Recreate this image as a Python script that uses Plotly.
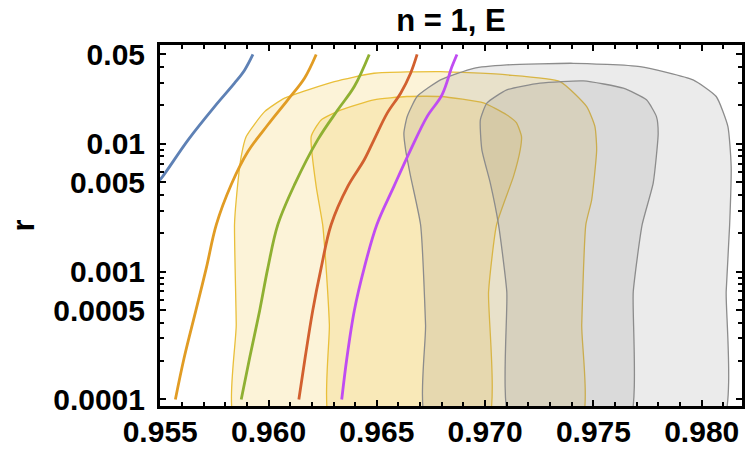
import plotly.graph_objects as go

# Model curves: spectral index n_s against tensor-to-scalar ratio r
blue_ns = [0.95490, 0.95510, 0.95629, 0.95751, 0.95843, 0.95890, 0.95928]
blue_r = [0.00505, 0.00552, 0.01074, 0.01954, 0.02979, 0.03784, 0.05]

orange_ns = [0.95570, 0.95610, 0.95665, 0.95713, 0.95759, 0.95828, 0.95905,
             0.95997, 0.96089, 0.96166, 0.96220]
orange_r = [1e-4, 2.1e-4, 5e-4, 1.07e-3, 2.33e-3, 4.8e-3, 8.7e-3,
            0.0141, 0.0221, 0.0326, 0.05]

green_ns = [0.95874, 0.95913, 0.95959, 0.95997, 0.96043, 0.96120, 0.96227,
            0.96320, 0.96396, 0.96465]
green_r = [1e-4, 2.12e-4, 4.95e-4, 1.07e-3, 2.33e-3, 4.79e-3, 0.01074,
           0.01845, 0.02805, 0.05]

red_ns = [0.96140, 0.96169, 0.96204, 0.96243, 0.96289, 0.96366, 0.96442,
          0.96487, 0.96548, 0.96610, 0.96656, 0.96686]
red_r = [1e-4, 2.12e-4, 4.95e-4, 1.07e-3, 2.33e-3, 4.65e-3, 7.5e-3,
         0.01074, 0.01738, 0.02489, 0.03565, 0.05]

magenta_ns = [0.96338, 0.96362, 0.96396, 0.96442, 0.96500, 0.96579, 0.96656,
              0.96732, 0.96801, 0.96847, 0.96870]
magenta_r = [1e-4, 2.12e-4, 4.95e-4, 1.07e-3, 2.33e-3, 4.65e-3, 8.97e-3,
             0.01633, 0.02415, 0.04018, 0.05]

# Confidence regions (95% and 68%) for the two data sets
yellow95_ns = [0.95851, 0.95851, 0.95843, 0.95851, 0.95874, 0.95897, 0.95982,
               0.96074, 0.96304, 0.96487, 0.96795, 0.97102, 0.97346, 0.97469,
               0.97507, 0.97515, 0.97492, 0.97465, 0.97446, 0.97438]
yellow95_r = [6.3e-5, 3.85e-4, 2.33e-3, 3.65e-3, 7.96e-3, 0.0114, 0.01786,
              0.02275, 0.03069, 0.03565, 0.03673, 0.03459, 0.03069, 0.01954,
              0.01365, 8.97e-3, 3.65e-3, 2.33e-3, 3.85e-4, 6.3e-5]

yellow68_ns = [0.96289, 0.96281, 0.96266, 0.96250, 0.96220, 0.96197, 0.96243,
               0.96335, 0.96487, 0.96639, 0.96795, 0.96993, 0.97099, 0.97145,
               0.97168, 0.97162, 0.97131, 0.97053, 0.97016, 0.97008]
yellow68_r = [6.3e-5, 3.85e-4, 1.069e-3, 2.33e-3, 4.65e-3, 0.0114, 0.01538,
              0.01845, 0.02208, 0.02344, 0.02344, 0.02089, 0.01687, 0.01459,
              0.0114, 8.97e-3, 5.56e-3, 2.33e-3, 7.01e-4, 6.3e-5]

gray95_ns = [0.96735, 0.96725, 0.96702, 0.96656, 0.96633, 0.96625, 0.96640,
             0.96686, 0.96794, 0.96947, 0.97100, 0.97407, 0.97715, 0.97960,
             0.98067, 0.98121, 0.98136, 0.98129, 0.98113, 0.98090]
gray95_r = [6.3e-5, 3.85e-4, 2.33e-3, 5.56e-3, 8.97e-3, 0.01211, 0.01629,
            0.02344, 0.03162, 0.03899, 0.04140, 0.04266, 0.04018, 0.03162,
            0.02344, 0.01365, 6.65e-3, 2.33e-3, 7.01e-4, 6.3e-5]

gray68_ns = [0.97119, 0.97100, 0.97062, 0.97024, 0.96985, 0.96978, 0.97008,
             0.97100, 0.97254, 0.97454, 0.97638, 0.97745, 0.97791, 0.97799,
             0.97776, 0.97725, 0.97684, 0.97661]
gray68_r = [6.3e-5, 7.01e-4, 2.33e-3, 4.93e-3, 8.97e-3, 0.01538, 0.02080,
            0.02642, 0.02979, 0.03105, 0.02723, 0.02208, 0.01633, 0.01211,
            4.93e-3, 2.33e-3, 7.01e-4, 6.3e-5]

x_ticks = [0.955, 0.960, 0.965, 0.970, 0.975, 0.980]
x_tick_text = ["0.955", "0.960", "0.965", "0.970", "0.975", "0.980"]
x_minor = [0.956, 0.957, 0.958, 0.959, 0.961, 0.962, 0.963, 0.964, 0.966,
           0.967, 0.968, 0.969, 0.971, 0.972, 0.973, 0.974, 0.976, 0.977,
           0.978, 0.979, 0.981]
y_ticks = [1e-4, 5e-4, 1e-3, 5e-3, 1e-2, 5e-2]
y_tick_text = ["0.0001", "0.0005", "0.001", "0.005", "0.01", "0.05"]
y_minor = [2e-4, 3e-4, 4e-4, 6e-4, 7e-4, 8e-4, 9e-4,
           2e-3, 3e-3, 4e-3, 6e-3, 7e-3, 8e-3, 9e-3,
           2e-2, 3e-2, 4e-2]

FONT = "Liberation Sans, Arial, sans-serif"
TICK_FONT = dict(family=FONT, size=30, color="black", weight="bold")

fig = go.Figure()

regions = [
    (yellow95_ns, yellow95_r, "rgba(240,195,60,0.2)", "#e9bf3a"),
    (yellow68_ns, yellow68_r, "rgba(240,195,60,0.2)", "#e9bf3a"),
    (gray95_ns, gray95_r, "rgba(128,128,128,0.16)", "#8c8c8c"),
    (gray68_ns, gray68_r, "rgba(128,128,128,0.16)", "#8c8c8c"),
]
for xs, rs, fillc, linec in regions:
    fig.add_trace(go.Scatter(
        x=xs + xs[:1], y=rs + rs[:1], mode="lines", fill="toself",
        fillcolor=fillc, line=dict(color=linec, width=1.3, shape="spline",
                                   smoothing=0.5),
        hoverinfo="skip", showlegend=False))

curves = [
    (blue_ns, blue_r, "#5e81b5"),
    (orange_ns, orange_r, "#e19c24"),
    (green_ns, green_r, "#8fb032"),
    (red_ns, red_r, "#d2602f"),
    (magenta_ns, magenta_r, "#c04cf2"),
]
for xs, rs, col in curves:
    fig.add_trace(go.Scatter(
        x=xs, y=rs, mode="lines",
        line=dict(color=col, width=2.8, shape="spline", smoothing=1.0),
        showlegend=False))

fig.update_layout(
    width=746, height=450,
    margin=dict(l=160, r=4, t=45, b=44),
    paper_bgcolor="white", plot_bgcolor="white",
    font=dict(family=FONT, size=30, color="black", weight="bold"),
    title=dict(text="n = 1, E", x=0.5, xref="paper", xanchor="center",
               y=1 - 20 / 450, yref="container", yanchor="middle",
               font=dict(family=FONT, size=31, color="black", weight="bold")),
    xaxis=dict(range=[0.95499, 0.98186], showgrid=False, zeroline=False,
               showline=True, linecolor="black", linewidth=3, mirror="allticks",
               ticks="inside", ticklen=6, tickwidth=2, tickcolor="black",
               tickmode="array", tickvals=x_ticks, ticktext=x_tick_text,
               tickfont=TICK_FONT, ticklabelstandoff=-3, automargin=False,
               minor=dict(tickmode="array", tickvals=x_minor, ticks="inside",
                          ticklen=4, tickwidth=1.5, tickcolor="black",
                          showgrid=False)),
    yaxis=dict(type="log", range=[-4.051, -1.227], showgrid=False,
               zeroline=False, showline=True, linecolor="black", linewidth=3,
               mirror="allticks", ticks="inside", ticklen=6, tickwidth=2,
               tickcolor="black", tickmode="array", tickvals=y_ticks,
               ticktext=y_tick_text, tickfont=TICK_FONT, ticklabelstandoff=6,
               automargin=False,
               minor=dict(tickmode="array", tickvals=y_minor, ticks="inside",
                          ticklen=4, tickwidth=1.5, tickcolor="black",
                          showgrid=False)),
    annotations=[dict(text="r", xref="paper", yref="paper",
                      x=(23 - 160) / 582, y=0.5, xanchor="center",
                      yanchor="middle", textangle=-90, showarrow=False,
                      font=dict(family=FONT, size=31, color="black",
                                weight="bold"))],
)

fig.write_html("out.html")
